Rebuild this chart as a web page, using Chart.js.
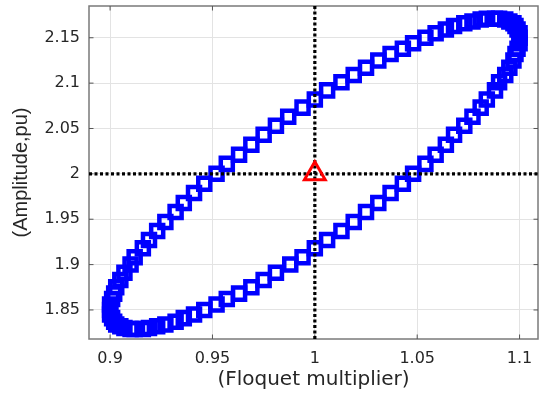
<!DOCTYPE html>
<html>
<head>
<meta charset="utf-8">
<script src="https://cdn.jsdelivr.net/npm/chart.js@4.4.1/dist/chart.umd.min.js"></script>
<style>
  html, body { margin: 0; padding: 0; background: #ffffff; }
  #wrap { width: 539px; height: 395px; }
</style>
</head>
<body>
<div id="wrap"><canvas id="floquet" width="539" height="395"></canvas></div>
<script>
// Floquet multiplier (x) vs amplitude (y)
const floquetX = [
  1.100, 1.100, 1.099, 1.098, 1.097, 1.095, 1.093, 1.090, 1.088, 1.084,
  1.081, 1.077, 1.073, 1.068, 1.064, 1.059, 1.054, 1.048, 1.043, 1.037,
  1.031, 1.025, 1.019, 1.013, 1.006, 1.000, 0.994, 0.987, 0.981, 0.975,
  0.969, 0.963, 0.957, 0.952, 0.946, 0.941, 0.936, 0.932, 0.927, 0.923,
  0.919, 0.916, 0.912, 0.910, 0.907, 0.905, 0.903, 0.902, 0.901, 0.900,
  0.900, 0.900, 0.901, 0.902, 0.903, 0.905, 0.907, 0.910, 0.912, 0.916,
  0.919, 0.923, 0.927, 0.932, 0.936, 0.941, 0.946, 0.952, 0.957, 0.963,
  0.969, 0.975, 0.981, 0.988, 0.994, 1.000, 1.006, 1.013, 1.019, 1.025,
  1.031, 1.037, 1.043, 1.048, 1.054, 1.059, 1.064, 1.068, 1.073, 1.077,
  1.081, 1.084, 1.088, 1.090, 1.093, 1.095, 1.097, 1.098, 1.099, 1.100
];
const amplitudeY = [
  2.150, 2.155, 2.159, 2.163, 2.166, 2.168, 2.170, 2.171, 2.171, 2.171,
  2.170, 2.168, 2.166, 2.163, 2.159, 2.155, 2.150, 2.144, 2.138, 2.132,
  2.125, 2.117, 2.109, 2.101, 2.092, 2.082, 2.073, 2.063, 2.053, 2.043,
  2.032, 2.021, 2.011, 2.000, 1.989, 1.979, 1.968, 1.958, 1.947, 1.937,
  1.927, 1.918, 1.908, 1.900, 1.891, 1.883, 1.875, 1.868, 1.862, 1.856,
  1.850, 1.845, 1.841, 1.837, 1.834, 1.832, 1.830, 1.829, 1.829, 1.829,
  1.830, 1.832, 1.834, 1.837, 1.841, 1.845, 1.850, 1.856, 1.862, 1.868,
  1.875, 1.883, 1.891, 1.900, 1.908, 1.918, 1.927, 1.937, 1.947, 1.958,
  1.968, 1.979, 1.989, 2.000, 2.011, 2.021, 2.032, 2.043, 2.053, 2.063,
  2.073, 2.082, 2.092, 2.101, 2.109, 2.117, 2.125, 2.132, 2.138, 2.144
];

// operating point (red triangle) and the dotted reference lines through it
const pointX = [1];
const pointY = [2];
const refX = 1;
const refY = 2;

const xTicks = [0.9, 0.95, 1, 1.05, 1.1];
const yTicks = [1.85, 1.9, 1.95, 2, 2.05, 2.1, 2.15];

const xMin = 0.8897, xMax = 1.109;
const yMin = 1.818, yMax = 2.185;

const TEXT = '#262626';

// MATLAB style box with inward tick marks
const boxFrame = {
  id: 'boxFrame',
  beforeDatasetsDraw(chart) {
    const { ctx, chartArea: a, scales } = chart;
    ctx.save();
    ctx.strokeStyle = '#7a7a7a';
    ctx.lineWidth = 1.5;
    ctx.strokeRect(a.left, a.top, a.right - a.left, a.bottom - a.top);
    ctx.strokeStyle = '#555555';
    ctx.lineWidth = 1;
    ctx.beginPath();
    xTicks.forEach(v => {
      const px = scales.x.getPixelForValue(v);
      ctx.moveTo(px, a.bottom); ctx.lineTo(px, a.bottom - 4.5);
      ctx.moveTo(px, a.top); ctx.lineTo(px, a.top + 4.5);
    });
    yTicks.forEach(v => {
      const py = scales.y.getPixelForValue(v);
      ctx.moveTo(a.left, py); ctx.lineTo(a.left + 4.5, py);
      ctx.moveTo(a.right, py); ctx.lineTo(a.right - 4.5, py);
    });
    ctx.stroke();
    ctx.restore();
  }
};

const ellipse = floquetX.map((x, i) => ({ x: x, y: amplitudeY[i] }));
const opPoint = pointX.map((x, i) => ({ x: x, y: pointY[i] }));

new Chart(document.getElementById('floquet'), {
  type: 'scatter',
  data: {
    datasets: [
      {
        data: opPoint,
        pointStyle: 'triangle',
        pointRadius: 12,
        borderColor: '#ff0000',
        backgroundColor: 'rgba(0,0,0,0)',
        borderWidth: 3,
        order: 0
      },
      {
        data: [{ x: refX, y: yMin }, { x: refX, y: yMax }],
        showLine: true,
        borderColor: '#000000',
        borderWidth: 3.2,
        borderDash: [3, 2.5],
        pointRadius: 0,
        order: 1
      },
      {
        data: [{ x: xMin, y: refY }, { x: xMax, y: refY }],
        showLine: true,
        borderColor: '#000000',
        borderWidth: 3.2,
        borderDash: [3, 2.5],
        pointRadius: 0,
        order: 1
      },
      {
        data: ellipse,
        pointStyle: 'rect',
        pointRadius: 8.5,
        borderColor: '#0000ff',
        backgroundColor: 'rgba(0,0,0,0)',
        borderWidth: 4.5,
        order: 2
      }
    ]
  },
  options: {
    responsive: false,
    animation: false,
    events: [],
    layout: { autoPadding: false, padding: { top: 6, right: 1, left: 0, bottom: 0 } },
    plugins: { legend: { display: false }, tooltip: { enabled: false } },
    scales: {
      x: {
        type: 'linear',
        min: xMin,
        max: xMax,
        afterBuildTicks: s => { s.ticks = xTicks.map(v => ({ value: v })); },
        afterFit: s => { s.height = 56; s.paddingLeft = 0; s.paddingRight = 0; },
        grid: { color: '#e3e3e3', drawTicks: false },
        border: { display: false },
        ticks: {
          padding: 10,
          maxRotation: 0,
          autoSkip: false,
          color: TEXT,
          font: { family: 'DejaVu Sans', size: 16 },
          callback: v => String(v)
        },
        title: {
          display: true,
          text: '(Floquet multiplier)',
          color: TEXT,
          font: { family: 'DejaVu Sans', size: 20 },
          padding: { top: 0, bottom: 3 }
        }
      },
      y: {
        type: 'linear',
        min: yMin,
        max: yMax,
        afterBuildTicks: s => { s.ticks = yTicks.map(v => ({ value: v })); },
        afterFit: s => { s.width = 89; s.paddingTop = 0; s.paddingBottom = 0; },
        grid: { color: '#e3e3e3', drawTicks: false },
        border: { display: false },
        ticks: {
          padding: 9,
          autoSkip: false,
          color: TEXT,
          font: { family: 'DejaVu Sans', size: 16 },
          callback: v => String(v)
        },
        title: {
          display: true,
          text: '(Amplitude,pu)',
          color: TEXT,
          font: { family: 'Liberation Sans', size: 20 },
          padding: { top: 9, bottom: 0 }
        }
      }
    }
  },
  plugins: [boxFrame]
});
</script>
</body>
</html>
